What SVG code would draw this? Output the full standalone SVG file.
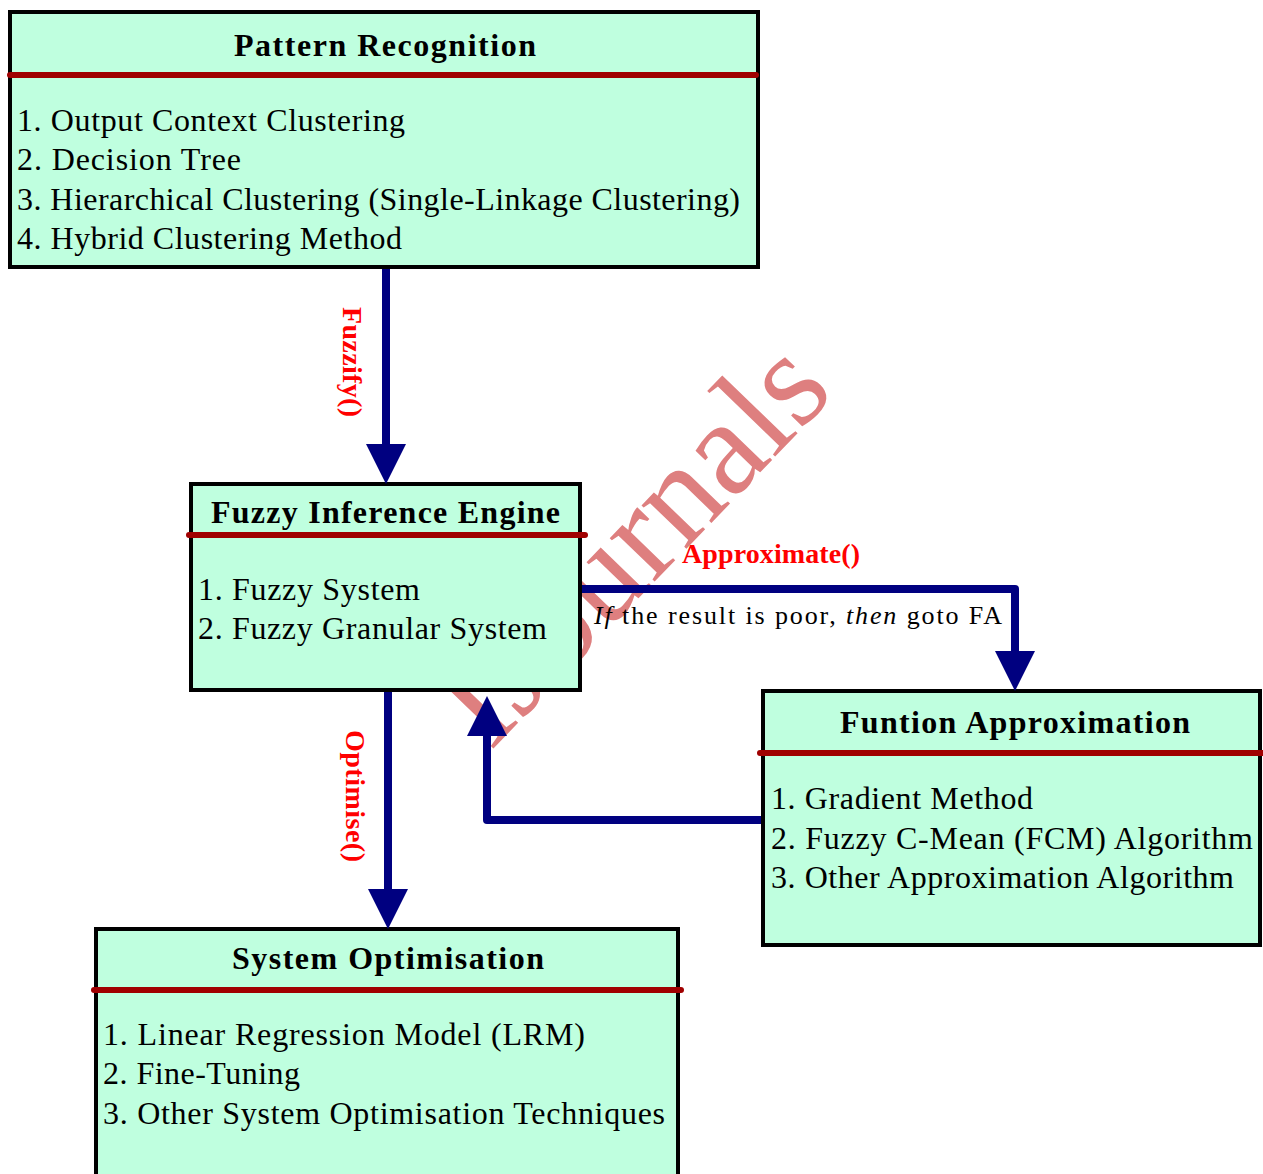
<svg xmlns="http://www.w3.org/2000/svg" width="1263" height="1174" viewBox="0 0 1263 1174">
<style>
.box{fill:#bfffdf;stroke:#000;stroke-width:4}
.div{stroke:#a00000;stroke-width:6;stroke-linecap:round}
.title{font-family:"Liberation Serif","Times New Roman",serif;font-weight:bold;font-size:32px;fill:#000}
.body{font-family:"Liberation Serif","Times New Roman",serif;font-size:32px;fill:#000}
.conn{fill:none;stroke:#000080;stroke-width:8;stroke-linejoin:round}
.lbl{font-family:"Liberation Serif","Times New Roman",serif;font-weight:bold;font-size:28px;fill:#ff0000}
.note{font-family:"Liberation Serif","Times New Roman",serif;font-size:26px;fill:#000}
.wm{font-family:"Liberation Serif","Times New Roman",serif;font-size:136px;fill:#de7f7f}
</style>
<defs>
<marker id="arr" markerUnits="userSpaceOnUse" markerWidth="40" markerHeight="40" viewBox="0 0 40 40" refX="0" refY="20" orient="auto">
<path d="M0,0 L40,20 L0,40 z" fill="#000080"/>
</marker>
</defs>
<rect width="1263" height="1174" fill="#fff"/>
<text class="wm" x="490" y="752" transform="rotate(-46 490 752)">IJournals</text>

<g id="pattern-recognition">
<rect class="box" x="10" y="12" width="748" height="255"/>
<text class="title" x="234" y="56" textLength="302">Pattern Recognition</text>
<line class="div" x1="10" y1="75" x2="756" y2="75"/>
<text class="body" x="17" y="131" textLength="388">1. Output Context Clustering</text>
<text class="body" x="17" y="170" textLength="224">2. Decision Tree</text>
<text class="body" x="17" y="210" textLength="723">3. Hierarchical Clustering (Single-Linkage Clustering)</text>
<text class="body" x="17" y="249" textLength="385">4. Hybrid Clustering Method</text>
</g>

<g id="fuzzy-inference-engine">
<rect class="box" x="191" y="484" width="389" height="206"/>
<text class="title" x="211" y="523" textLength="349">Fuzzy Inference Engine</text>
<line class="div" x1="189" y1="535" x2="585" y2="535"/>
<text class="body" x="198" y="600" textLength="222">1. Fuzzy System</text>
<text class="body" x="198" y="639" textLength="349">2. Fuzzy Granular System</text>
</g>

<g id="system-optimisation">
<rect class="box" x="96" y="929" width="582" height="260"/>
<text class="title" x="232" y="969" textLength="312">System Optimisation</text>
<line class="div" x1="94" y1="990" x2="681" y2="990"/>
<text class="body" x="103" y="1045" textLength="482">1. Linear Regression Model (LRM)</text>
<text class="body" x="103" y="1084" textLength="197">2. Fine-Tuning</text>
<text class="body" x="103" y="1124" textLength="562">3. Other System Optimisation Techniques</text>
</g>

<g id="function-approximation">
<rect class="box" x="763" y="691" width="497" height="254"/>
<text class="title" x="840" y="733" textLength="350">Funtion Approximation</text>
<line class="div" x1="760" y1="753" x2="1262" y2="753"/>
<text class="body" x="771" y="809" textLength="262">1. Gradient Method</text>
<text class="body" x="771" y="849" textLength="482">2. Fuzzy C-Mean (FCM) Algorithm</text>
<text class="body" x="771" y="888" textLength="463">3. Other Approximation Algorithm</text>
</g>

<g id="connectors">
<path class="conn" d="M386,269 L386,444" marker-end="url(#arr)"/>
<path class="conn" d="M388,692 L388,889" marker-end="url(#arr)"/>
<path class="conn" d="M582,589 L1015,589 L1015,651" marker-end="url(#arr)"/>
<path class="conn" d="M761,820 L487,820 L487,736" marker-end="url(#arr)"/>
<text class="lbl" x="343" y="362" text-anchor="middle" textLength="110" transform="rotate(90 343 362)">Fuzzify()</text>
<text class="lbl" x="346" y="796" text-anchor="middle" textLength="132" transform="rotate(90 346 796)">Optimise()</text>
<text class="lbl" x="682" y="563" textLength="178">Approximate()</text>
<text class="note" x="594" y="624" textLength="408"><tspan font-style="italic">If</tspan> the result is poor, <tspan font-style="italic">then</tspan> goto FA</text>
</g>
</svg>
